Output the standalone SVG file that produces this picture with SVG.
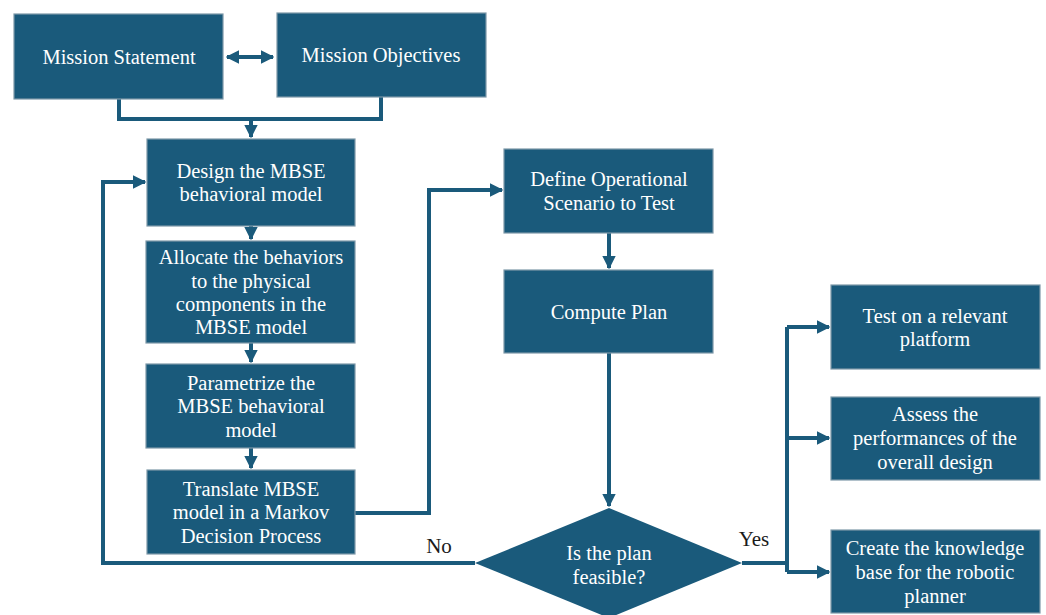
<svg xmlns="http://www.w3.org/2000/svg" width="1046" height="615" viewBox="0 0 1046 615">
<style>
.box{fill:#1a5a7b;stroke:#7d98a8;stroke-width:1.2}
.t{font-family:"Liberation Serif",serif;font-size:20.5px;fill:#ffffff;text-anchor:middle}
.lbl{font-family:"Liberation Serif",serif;font-size:21px;fill:#1b1b1b;text-anchor:middle}
.c{fill:none;stroke:#1a5a7b;stroke-width:4}
</style>
<defs>
<marker id="ah" viewBox="0 0 10 10" refX="9" refY="5" markerWidth="3.4" markerHeight="3.4" orient="auto-start-reverse" markerUnits="strokeWidth">
<path d="M0,0 L10,5 L0,10 Z" fill="#1a5a7b"/>
</marker>
</defs>
<rect width="1046" height="615" fill="#ffffff"/>
<g id="connectors">
<path class="c" d="M227,57 L273,57" marker-start="url(#ah)" marker-end="url(#ah)"/>
<path class="c" d="M119,99 V119 H381 V97"/>
<path class="c" d="M251,119 V137" marker-end="url(#ah)"/>
<path class="c" d="M251,226 V239" marker-end="url(#ah)"/>
<path class="c" d="M251,343 V362" marker-end="url(#ah)"/>
<path class="c" d="M251,448 V468" marker-end="url(#ah)"/>
<path class="c" d="M355,513 H429 V190 H502" marker-end="url(#ah)"/>
<path class="c" d="M609,233 V268" marker-end="url(#ah)"/>
<path class="c" d="M609,353 V506" marker-end="url(#ah)"/>
<path class="c" d="M475,563 H103 V182 H145" marker-end="url(#ah)"/>
<path class="c" d="M742,563 H787"/>
<path class="c" d="M787,327 V572"/>
<path class="c" d="M787,327 H829" marker-end="url(#ah)"/>
<path class="c" d="M787,438 H829" marker-end="url(#ah)"/>
<path class="c" d="M787,572 H829" marker-end="url(#ah)"/>
</g>
<g id="mission-statement"><rect class="box" x="14" y="14" width="209" height="85"/><text class="t" x="119" y="64">Mission Statement</text></g>
<g id="mission-objectives"><rect class="box" x="277" y="13" width="209" height="84"/><text class="t" x="381" y="62">Mission Objectives</text></g>
<g id="design"><rect class="box" x="147" y="139" width="208" height="87"/><text class="t" x="251" y="178">Design the MBSE</text><text class="t" x="251" y="201">behavioral model</text></g>
<g id="allocate"><rect class="box" x="146" y="241" width="209" height="102"/><text class="t" x="251" y="264">Allocate the behaviors</text><text class="t" x="251" y="288">to the physical</text><text class="t" x="251" y="311">components in the</text><text class="t" x="251" y="334">MBSE model</text></g>
<g id="parametrize"><rect class="box" x="146" y="364" width="209" height="84"/><text class="t" x="251" y="390">Parametrize the</text><text class="t" x="251" y="413">MBSE behavioral</text><text class="t" x="251" y="437">model</text></g>
<g id="translate"><rect class="box" x="147" y="470" width="208" height="84"/><text class="t" x="251" y="496">Translate MBSE</text><text class="t" x="251" y="519">model in a Markov</text><text class="t" x="251" y="543">Decision Process</text></g>
<g id="define"><rect class="box" x="504" y="149" width="209" height="84"/><text class="t" x="609" y="186">Define Operational</text><text class="t" x="609" y="210">Scenario to Test</text></g>
<g id="compute"><rect class="box" x="504" y="270" width="209" height="83"/><text class="t" x="609" y="319">Compute Plan</text></g>
<g id="feasible"><path class="box" d="M609,508 L742,563 L609,618 L475,563 Z" style="stroke:none"/><text class="t" x="609" y="560">Is the plan</text><text class="t" x="609" y="584">feasible?</text></g>
<g id="labels"><text class="lbl" x="439" y="553">No</text><text class="lbl" x="754" y="546">Yes</text></g>
<g id="test"><rect class="box" x="831" y="285" width="209" height="84"/><text class="t" x="935" y="323">Test on a relevant</text><text class="t" x="935" y="346">platform</text></g>
<g id="assess"><rect class="box" x="831" y="397" width="209" height="83"/><text class="t" x="935" y="421">Assess the</text><text class="t" x="935" y="445">performances of the</text><text class="t" x="935" y="469">overall design</text></g>
<g id="create"><rect class="box" x="831" y="530" width="209" height="83"/><text class="t" x="935" y="555">Create the knowledge</text><text class="t" x="935" y="579">base for the robotic</text><text class="t" x="935" y="603">planner</text></g>
</svg>
